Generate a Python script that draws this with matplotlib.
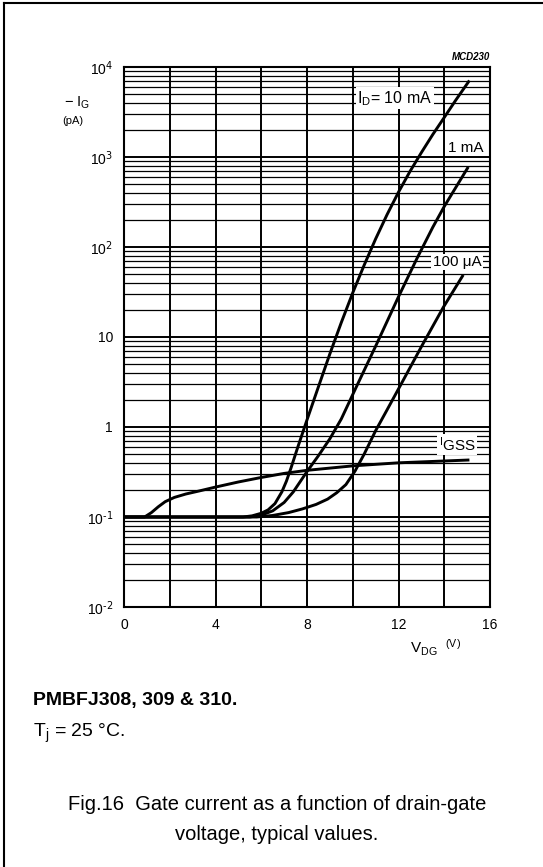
import matplotlib.pyplot as plt
import numpy as np

plt.rcParams['font.family'] = ['Liberation Sans', 'DejaVu Sans']

# values (V_DG in V, -I_G in pA)
v_igss = [0, 0.9, 1.2, 1.5, 1.8, 2.2, 2.7, 3.3, 4, 5, 6, 7, 8, 10, 12, 15.1]
i_igss = [0.1, 0.1, 0.112, 0.13, 0.148, 0.165, 0.18, 0.195, 0.215, 0.245, 0.275, 0.305,
          0.33, 0.37, 0.40, 0.43]

v_10ma = [0, 5.2, 5.6, 6.0, 6.3, 6.6, 6.9, 7.1, 7.3, 7.6, 8.0, 8.5, 9.0, 9.5, 10.0,
          10.5, 11.0, 11.5, 12.0, 12.5, 13.0, 13.5, 14.0, 14.5, 15.1]
i_10ma = [0.1, 0.1, 0.103, 0.11, 0.12, 0.141, 0.19, 0.25, 0.35, 0.6, 1.2, 2.8, 6.5, 14.5, 31,
          63, 123, 229, 407, 690, 1120, 1780, 2750, 4270, 7080]

v_1ma = [0, 5.5, 6.0, 6.5, 7.0, 7.4, 8.0, 8.5, 9.0, 9.5, 10.1, 11.0, 12.0,
         12.8, 13.5, 14.0, 15.05]
i_1ma = [0.1, 0.1, 0.105, 0.117, 0.145, 0.19, 0.32, 0.48, 0.74, 1.23, 2.6, 7.9, 28,
         74, 166, 282, 776]

v_100ua = [0, 5.8, 6.5, 7.2, 7.8, 8.4, 8.9, 9.3, 9.7, 10.1, 10.5, 11.0, 11.5, 12.1,
           13.0, 13.96, 14.83]
i_100ua = [0.1, 0.1, 0.104, 0.112, 0.123, 0.138, 0.158, 0.186, 0.229, 0.324, 0.5, 0.91,
           1.55, 2.95, 7.8, 21.4, 49]

x_ticks = [0, 4, 8, 12, 16]
y_ticks = [1e-2, 1e-1, 1, 10, 1e2, 1e3, 1e4]
y_labels = ['10$^{\\text{-}2}$', '10$^{\\text{-}1}$', '1', '10', '10$^2$', '10$^3$', '10$^4$']

fig = plt.figure(figsize=(5.43, 8.67), dpi=100)
ax = fig.add_axes([124 / 543, 1 - 607 / 867, 366 / 543, 540 / 867])
ax.set_yscale('log')
ax.set_xlim(0, 16)
ax.set_ylim(1e-2, 1e4)

# grid: vertical every 2 V, horizontal at decades and 2..9
for v in np.arange(2, 16, 2):
    ax.axvline(v, color='black', lw=1.4, zorder=1)
for d in range(-2, 4):
    for m in range(2, 10):
        ax.axhline(m * 10.0 ** d, color='black', lw=0.9, zorder=1)
    if d > -2:
        ax.axhline(10.0 ** d, color='black', lw=1.4, zorder=1)

for v, i in [(v_igss, i_igss), (v_10ma, i_10ma), (v_1ma, i_1ma), (v_100ua, i_100ua)]:
    ax.plot(v, i, color='black', lw=2.1, solid_capstyle='butt', solid_joinstyle='round',
            zorder=3)

for s in ax.spines.values():
    s.set_linewidth(1.5)

ax.set_xticks(x_ticks)
ax.set_xticklabels([str(t) for t in x_ticks], fontsize=10)
ax.set_yticks(y_ticks)
ax.set_yticklabels(y_labels, fontsize=10)
ax.yaxis.set_minor_locator(plt.NullLocator())
ax.tick_params(length=0, pad=8)

box = dict(facecolor='white', edgecolor='none', pad=1)
ax.text(10.2, 4500, '$\\mathregular{I_D}$= 10 mA', fontsize=11.5, va='center', ha='left',
        bbox=box, zorder=4)
ax.text(14.15, 1260, '1 mA', fontsize=11, va='center', ha='left', bbox=box, zorder=4)
ax.text(13.5, 68, '100 μA', fontsize=11, va='center', ha='left', bbox=box, zorder=4)
ax.text(13.75, 0.64, '$\\mathregular{^{I}}$GSS', fontsize=11, va='center', ha='left',
        bbox=box, zorder=4)

fig.text(490 / 543, 1 - 57 / 867, 'MCD230', fontsize=7, fontweight='bold', style='italic',
         ha='right', va='center')
fig.text(64 / 543, 1 - 103 / 867, '− $\\mathregular{I_G}$', fontsize=10.5, ha='left',
         va='center')
fig.text(62 / 543, 1 - 121 / 867, '(pA)', fontsize=8, ha='left', va='center')
fig.text(410 / 543, 1 - 648 / 867, '$\\mathregular{V_{DG}}$  $\\mathregular{^{(V)}}$',
         fontsize=11, ha='left', va='center')

fig.text(33 / 543, 1 - 700 / 867, 'PMBFJ308, 309 & 310.', fontsize=14, fontweight='bold',
         ha='left', va='center')
fig.text(33 / 543, 1 - 733 / 867, '$\\mathregular{T_j}$ = 25 °C.', fontsize=14, ha='left',
         va='center')
fig.text(277 / 543, 1 - 805 / 867, 'Fig.16  Gate current as a function of drain-gate',
         fontsize=14.5, ha='center', va='center')
fig.text(277 / 543, 1 - 835 / 867, 'voltage, typical values.', fontsize=14.5, ha='center',
         va='center')

# frame: top and left edges only
fig.add_artist(plt.Line2D([4 / 543, 4 / 543], [0, 1 - 3 / 867], color='black', lw=1.5))
fig.add_artist(plt.Line2D([4 / 543, 1], [1 - 3 / 867, 1 - 3 / 867], color='black', lw=1.5))

fig.savefig('out.png', dpi=100)
